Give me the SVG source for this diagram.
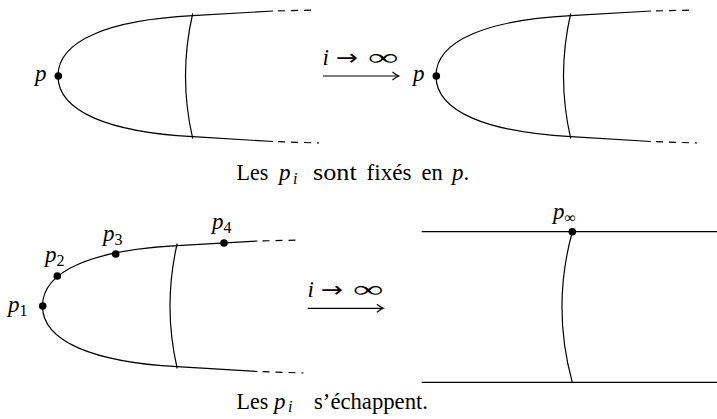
<svg xmlns="http://www.w3.org/2000/svg" width="717" height="419" viewBox="0 0 717 419">
<style>
.ln{fill:none;stroke:#000;stroke-width:1.2}
.dash{fill:none;stroke:#000;stroke-width:1.2;stroke-dasharray:7 6}
.dot{fill:#000}
</style>
<defs>
<g id="shape">
<path class="ln" d="M58 76 C58 40 110 20 192.7 15.7 L273 11"/>
<path class="dash" d="M278 10.9 L316 10"/>
<path class="ln" d="M58 76 C58 112 110 132 192.7 136.7 L273 141.5"/>
<path class="dash" d="M278 141.7 L319 143"/>
<path class="ln" d="M192.7 13.5 Q178.3 76 192.7 138.5"/>
</g>
</defs>
<g font-family="Liberation Serif, serif" font-size="23" fill="#000">
<g id="top-left">
<use href="#shape"/>
<circle class="dot" cx="58.3" cy="76" r="3.8"/>
<text x="35" y="81" font-style="italic">p</text>
</g>
<g id="top-right">
<use href="#shape" transform="translate(378 0)"/>
<circle class="dot" cx="436.3" cy="76" r="3.8"/>
<text x="413" y="81" font-style="italic">p</text>
</g>
<g id="caption-top">
<text x="236.5" y="180" textLength="31.7" lengthAdjust="spacingAndGlyphs">Les</text>
<text x="279" y="180" font-style="italic">p</text>
<text x="293" y="183.5" font-size="16" font-style="italic">i</text>
<text x="313" y="180" textLength="43.7" lengthAdjust="spacingAndGlyphs">sont</text>
<text x="366.5" y="180" textLength="45" lengthAdjust="spacingAndGlyphs">fixés</text>
<text x="421.5" y="180" textLength="21.3" lengthAdjust="spacingAndGlyphs">en</text>
<text x="452" y="180"><tspan font-style="italic">p</tspan>.</text>
</g>
<g id="bottom-left">
<use href="#shape" transform="translate(-15.5 230)"/>
<circle class="dot" cx="42.7" cy="306" r="3.8"/>
<circle class="dot" cx="57.3" cy="276" r="3.8"/>
<circle class="dot" cx="115.7" cy="254" r="3.8"/>
<circle class="dot" cx="224" cy="243" r="3.8"/>
<text x="8" y="312" font-style="italic">p<tspan font-size="16" font-style="normal" dy="3.5">1</tspan></text>
<text x="45" y="262" font-style="italic">p<tspan font-size="16" font-style="normal" dy="3.5">2</tspan></text>
<text x="103" y="241" font-style="italic">p<tspan font-size="16" font-style="normal" dy="3.5">3</tspan></text>
<text x="212" y="229" font-style="italic">p<tspan font-size="16" font-style="normal" dy="3.5">4</tspan></text>
</g>
<g id="bottom-right">
<path class="ln" d="M421.7 231.7 L717 231.7"/>
<path class="ln" d="M421.7 382.3 L717 382.3"/>
<path class="ln" d="M572.3 232 C559 280 558 330 572.3 382.3"/>
<circle class="dot" cx="572.3" cy="231.7" r="3.8"/>
<text x="553" y="219" font-style="italic">p<tspan font-size="16" font-style="normal" dy="3.5">∞</tspan></text>
</g>
<g id="caption-bottom">
<text x="236.5" y="408.5" textLength="31.7" lengthAdjust="spacingAndGlyphs">Les</text>
<text x="274" y="408.5" font-style="italic">p</text>
<text x="288" y="412" font-size="16" font-style="italic">i</text>
<text x="314" y="408.5" textLength="114" lengthAdjust="spacingAndGlyphs">s’échappent.</text>
</g>
<g id="connectors">
<path class="ln" d="M323 76 L398.5 76"/>
<path class="ln" d="M392.5 72 Q396 75 398.8 76 Q396 77 392.5 80"/>
<text x="322.5" y="64.5" font-style="italic">i</text>
<text transform="translate(336 64.5) scale(1.2 1)" font-family="DejaVu Sans, sans-serif" font-size="22">→</text>
<text transform="translate(368 64.5) scale(1.85 1)">∞</text>
<path class="ln" d="M307.7 308.3 L383 308.3"/>
<path class="ln" d="M377 304.3 Q380.5 307.3 383.3 308.3 Q380.5 309.3 377 312.3"/>
<text x="307.5" y="296.8" font-style="italic">i</text>
<text transform="translate(321 296.8) scale(1.2 1)" font-family="DejaVu Sans, sans-serif" font-size="22">→</text>
<text transform="translate(353 296.8) scale(1.85 1)">∞</text>
</g>
</g>
</svg>
